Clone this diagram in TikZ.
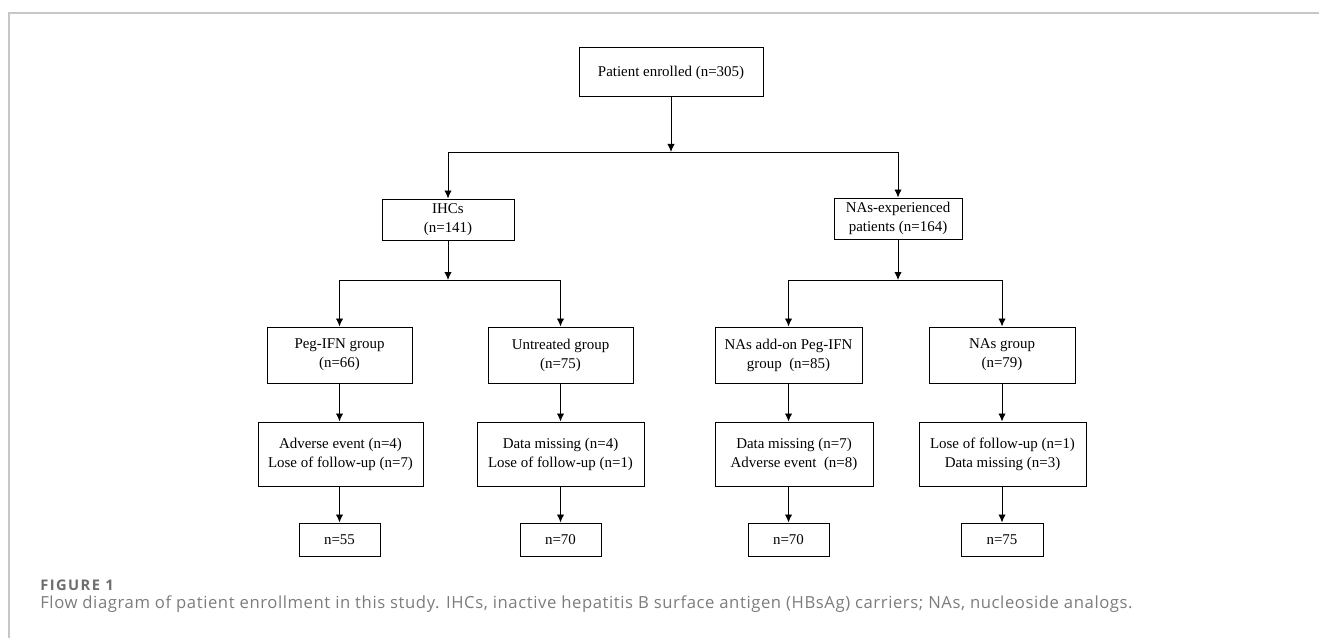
\documentclass[tikz,border=0pt]{standalone}
\usepackage{fontspec}
\setmainfont{Liberation Serif}
\newfontfamily\capfont{Open Sans}
\usetikzlibrary{arrows.meta}

\definecolor{capgray}{HTML}{6E6E6E}
\tikzset{
  box/.style={draw, line width=0.75pt, align=center, inner sep=0pt,
    font=\fontsize{11.2}{14.25}\selectfont},
  link/.style={-{Latex[length=6pt,width=5.5pt]}, line width=0.7pt},
}

\begin{document}
\begin{tikzpicture}[x=0.75pt, y=-0.75pt]
    \useasboundingbox (0,0) rectangle (1319,638);
    \draw[black!22, line width=1.5pt](1319,13)--(9,13)--(9,638);

    % first level
    \node[box, minimum width=138pt, minimum height=36.75pt](top) at (671,72.5){Patient enrolled (n=305)};
    \node[box, minimum width=99pt, minimum height=30.75pt](ihc) at (448,219.5){IHCs\\(n=141)};
    \node[box, minimum width=96pt, minimum height=30.75pt](nas) at (898,218.5){NAs-experienced\\patients (n=164)};

    % groups
    \node[box, minimum width=108.75pt, minimum height=42pt](peg) at (339.5,355){Peg-IFN group\\(n=66)};
    \node[box, minimum width=108.75pt, minimum height=42pt](unt) at (560.5,355){Untreated group\\(n=75)};
    \node[box, minimum width=110.25pt, minimum height=42pt](add) at (788.5,355){NAs add-on Peg-IFN\\group~~(n=85)};
    \node[box, minimum width=109.5pt, minimum height=42pt](nag) at (1002,355){NAs group\\(n=79)};

    % excluded
    \node[box, minimum width=123.75pt, minimum height=48pt](exa) at (340.5,454){Adverse event (n=4)\\Lose of follow-up (n=7)};
    \node[box, minimum width=125.25pt, minimum height=48pt](exb) at (560.5,454){Data missing (n=4)\\Lose of follow-up (n=1)};
    \node[box, minimum width=118.5pt, minimum height=48pt](exc) at (794,454){Data missing (n=7)\\Adverse event~~(n=8)};
    \node[box, minimum width=125.25pt, minimum height=48pt](exd) at (1002.5,454){Lose of follow-up (n=1)\\Data missing (n=3)};

    % final
    \node[box, minimum width=60.75pt, minimum height=24.75pt](fa) at (339.5,539.5){n=55};
    \node[box, minimum width=60.75pt, minimum height=24.75pt](fb) at (560.5,539.5){n=70};
    \node[box, minimum width=60.75pt, minimum height=24.75pt](fc) at (788.5,539.5){n=70};
    \node[box, minimum width=61.5pt, minimum height=24.75pt](fd) at (1002,539.5){n=75};

    % branching
    \coordinate(b1) at (671,152);
    \coordinate(b2) at (448,280);
    \coordinate(b3) at (898,280);
    \draw[link](top)--(b1);
    \draw[link](b1)-|(ihc);
    \draw[link](b1)-|(nas);
    \draw[link](ihc)--(b2);
    \draw[link](b2)-|(peg);
    \draw[link](b2)-|(unt);
    \draw[link](nas)--(b3);
    \draw[link](b3)-|(add);
    \draw[link](b3)-|(nag);
    \draw[link](peg)--(exa.north-|peg);
    \draw[link](unt)--(exb);
    \draw[link](add)--(exc.north-|add);
    \draw[link](nag)--(exd.north-|nag);
    \draw[link](exa.south-|fa)--(fa);
    \draw[link](exb)--(fb);
    \draw[link](exc.south-|fc)--(fc);
    \draw[link](exd.south-|fd)--(fd);

    % caption
    \node[anchor=base west, inner sep=0pt, text=capgray, font=\capfont\bfseries\fontsize{11}{13}\selectfont\addfontfeatures{LetterSpace=10}](fig) at (40,590){FIGURE 1};
    \node[anchor=base west, inner sep=0pt, text=capgray!90, font=\capfont\fontsize{12.5}{15}\selectfont\addfontfeatures{LetterSpace=3.5}](cap) at (40,608){Flow diagram of patient enrollment in this study. IHCs, inactive hepatitis B surface antigen (HBsAg) carriers; NAs, nucleoside analogs.};
\end{tikzpicture}
\end{document}
